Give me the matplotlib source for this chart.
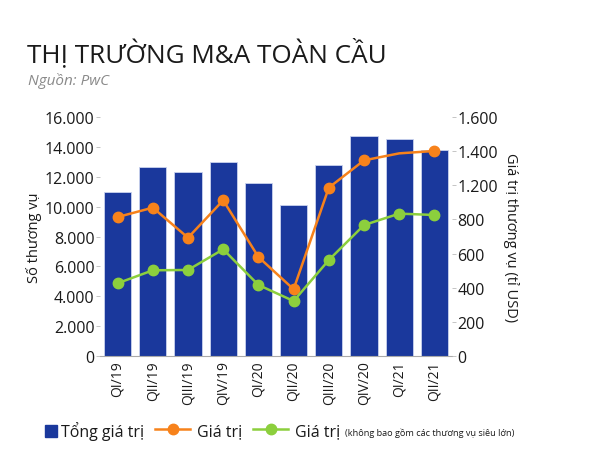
import matplotlib
matplotlib.use("Agg")
import matplotlib.pyplot as plt
from matplotlib.lines import Line2D
import numpy as np

# data
quarters = ["QI/19", "QII/19", "QIII/19", "QIV/19", "QI/20",
            "QII/20", "QIII/20", "QIV/20", "QI/21", "QII/21"]
so_thuong_vu = [11000, 12630, 12300, 13000, 11580, 10130, 12800, 14750, 14530, 13810]
gia_tri = [814, 869, 693, 912, 580, 391, 986, 1146, 1187, 1201]
gia_tri_khong_lon = [426, 502, 504, 625, 416, 322, 562, 767, 834, 826]

left_ticks = [0, 2000, 4000, 6000, 8000, 10000, 12000, 14000, 16000]
left_labels = ["0", "2.000", "4.000", "6.000", "8.000", "10.000", "12.000", "14.000", "16.000"]
right_ticks = [0, 200, 400, 600, 800, 1000, 1200, 1400]
right_labels = ["0", "200", "400", "600", "800", "1.200", "1.400", "1.600"]

BLUE = "#1a389c"
ORANGE = "#f7821b"
GREEN = "#8ccf3d"
TXT = "#1a1a1a"

plt.rcParams["font.family"] = ["Open Sans", "DejaVu Sans"]

fig = plt.figure(figsize=(6, 4.56), dpi=100)
ax = fig.add_axes([100 / 600, 99 / 456, 352 / 600, 239 / 456])
ax2 = ax.twinx()

x = np.arange(len(quarters))
ax.bar(x, so_thuong_vu, width=0.77, color=BLUE, edgecolor="#c9d3ee",
       linewidth=0.6, zorder=2)
ax.set_xlim(-0.5, len(quarters) - 0.5)
ax.set_ylim(0, 16000)
ax.set_yticks(left_ticks)
ax.set_yticklabels(left_labels)
ax.set_xticks(x)
ax.set_xticklabels(quarters, rotation=90)

l_or, = ax2.plot(x, gia_tri, color=ORANGE, lw=1.8, marker="o", ms=7.5,
                 markevery=[0, 1, 2, 3, 4, 5, 6, 7, 9], zorder=3)
l_gr, = ax2.plot(x, gia_tri_khong_lon, color=GREEN, lw=1.8, marker="o", ms=7.5,
                 zorder=3)
ax2.set_ylim(0, 1400)
ax2.set_yticks(right_ticks)
ax2.set_yticklabels(right_labels)

for a in (ax, ax2):
    for s in a.spines.values():
        s.set_visible(False)
    a.tick_params(axis="y", length=3, width=0.6, color="#bbbbbb",
                  labelsize=11.5, labelcolor=TXT, pad=1)
ax.spines["bottom"].set_visible(True)
ax.spines["bottom"].set_color("#aaaaaa")
ax.spines["bottom"].set_linewidth(0.8)
ax.tick_params(axis="x", length=0, labelsize=10, labelcolor=TXT, pad=3)

ax.set_ylabel("Số thương vụ", fontsize=10.5, color=TXT, labelpad=2)
ax2.set_ylabel("Giá trị thương vụ (tỉ USD)", fontsize=10.5, color=TXT,
               rotation=-90, va="center")
ax2.yaxis.set_label_coords(1.167, 0.5)

fig.text(27 / 600, 1 - 53 / 456, "THỊ TRƯỜNG M&A TOÀN CẦU", fontsize=18.8,
         color=TXT, va="center", ha="left")
fig.text(28 / 600, 1 - 81 / 456, "Nguồn: PwC", fontsize=11, style="italic",
         color="#8a8a8a", va="center", ha="left")

# legend: square for the bars, then the two lines
sq = Line2D([], [], ls="none", marker="s", ms=8.5, color=BLUE)
leg1 = fig.legend([sq], ["Tổng giá trị"], loc="center left",
                  bbox_to_anchor=(45 / 600, 1 - 432 / 456), frameon=False,
                  fontsize=11.5, handlelength=0.7, handletextpad=0.3,
                  borderaxespad=0, borderpad=0)
fig.canvas.draw()
b1 = leg1.get_window_extent()
leg2 = fig.legend([l_or, l_gr], ["Giá trị", "Giá trị"], loc="center left",
                  bbox_to_anchor=((b1.x1 + 11) / 600, 1 - 432 / 456), ncol=2,
                  frameon=False, fontsize=11.5, handlelength=2.2,
                  handletextpad=0.4, columnspacing=0.7, borderaxespad=0,
                  borderpad=0)
for lg in (leg1, leg2):
    for t in lg.get_texts():
        t.set_color(TXT)

fig.canvas.draw()
bb = leg2.get_texts()[1].get_window_extent()
fig.text((bb.x1 + 5) / 600, (bb.y0 + bb.y1) / 2 / 456 - 0.002,
         "(không bao gồm các thương vụ siêu lớn)", fontsize=6.6,
         color=TXT, va="center", ha="left")

fig.savefig("out.png", dpi=100)
